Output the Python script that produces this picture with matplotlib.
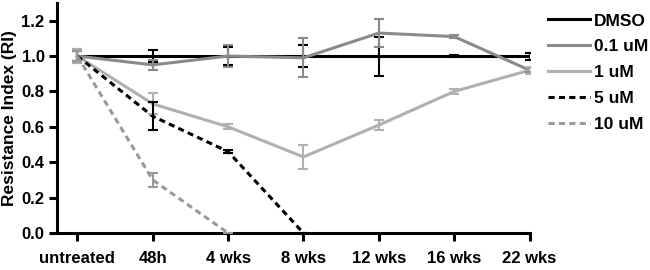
import matplotlib
matplotlib.use("Agg")
import matplotlib.pyplot as plt
import numpy as np

plt.rcParams['font.family'] = ['Liberation Sans', 'DejaVu Sans']
plt.rcParams['font.weight'] = 'bold'

categories = ["untreated", "48h", "4 wks", "8 wks", "12 wks", "16 wks", "22 wks"]
dmso = [1.0, 1.0, 1.0, 1.0, 1.0, 1.0, 1.0]
dmso_err = [0.03, 0.035, 0.05, 0.06, 0.11, 0.005, 0.02]
u01 = [1.0, 0.95, 1.0, 0.99, 1.13, 1.11, 0.92]
u01_err = [0.04, 0.03, 0.06, 0.11, 0.08, 0.01, 0.01]
u1 = [1.0, 0.73, 0.60, 0.43, 0.61, 0.80, 0.92]
u1_err = [0.04, 0.06, 0.015, 0.07, 0.03, 0.015, 0.02]
u5 = [1.0, 0.66, 0.46, 0.0]
u5_err = [0.03, 0.08, 0.01, 0.0]
u10 = [1.0, 0.30, 0.0]
u10_err = [0.03, 0.04, 0.0]

fig = plt.figure(figsize=(6.5, 2.7), dpi=100)
ax = fig.add_axes([0.0877, 0.137, 0.727, 0.852])

x = np.arange(len(categories))
lw = 2.2
series = [
    ("DMSO", dmso, dmso_err, 'black', '-'),
    ("0.1 uM", u01, u01_err, '#8a8a8a', '-'),
    ("1 uM", u1, u1_err, '#b0b0b0', '-'),
    ("5 uM", u5, u5_err, 'black', (0, (2.0, 1.4))),
    ("10 uM", u10, u10_err, '#999999', (0, (2.0, 1.4))),
]
for name, vals, errs, col, ls in series:
    xx = x[:len(vals)]
    ax.plot(xx, vals, color=col, lw=lw, ls=ls, label=name, zorder=3)
    ax.errorbar(xx, vals, yerr=errs, fmt='none', ecolor=col, elinewidth=1.5,
                capsize=3.5, capthick=1.5, zorder=4)

ax.set_xlim(-0.27, 6.0)
ax.set_ylim(0, 1.3)
ax.set_yticks([0.0, 0.2, 0.4, 0.6, 0.8, 1.0, 1.2])
ax.set_yticklabels(["0.0", "0.2", "0.4", "0.6", "0.8", "1.0", "1.2"])
ax.set_xticks(x)
ax.set_xticklabels(categories)
ax.spines['top'].set_visible(False)
ax.spines['right'].set_visible(False)
for s in ['left', 'bottom']:
    ax.spines[s].set_linewidth(2.2)
ax.tick_params(axis='both', width=2.2, length=6, labelsize=12, direction='out')
ax.tick_params(axis='y', pad=3)
ax.tick_params(axis='x', pad=7)
ax.set_ylabel("Resistance Index (RI)", fontsize=12.5, fontweight='bold', labelpad=3)

leg = ax.legend(loc='upper left', bbox_to_anchor=(1.025, 0.985), frameon=False,
                fontsize=12.5, handlelength=2.4, handletextpad=0.25, labelspacing=0.62,
                borderaxespad=0)
for line in leg.get_lines():
    line.set_linewidth(2.2)

fig.savefig("out.png", dpi=100)
